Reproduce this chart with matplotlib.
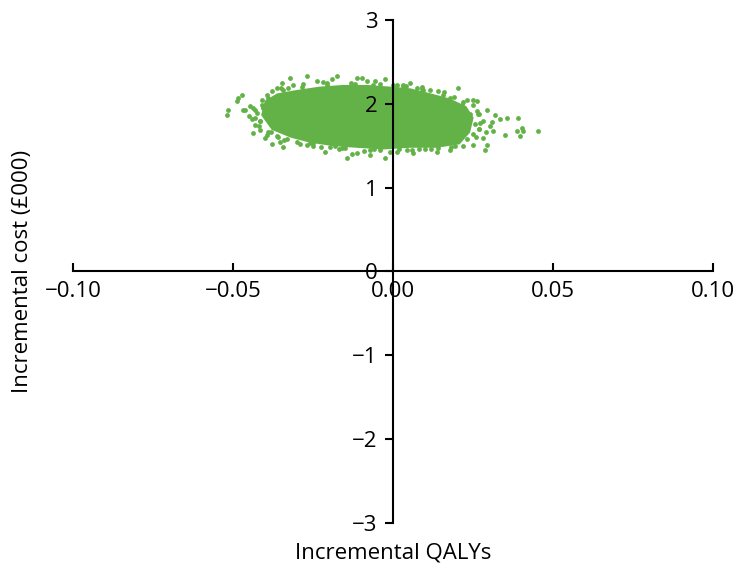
import matplotlib
matplotlib.use("Agg")
import matplotlib.pyplot as plt

# dense core of the PSA cloud (outline)
core_x = [-0.0405, -0.0395, -0.0360, -0.0300, -0.0228, -0.0155, -0.0082, -0.0009,
          0.0053, 0.0116, 0.0175, 0.0225, 0.0245, 0.0235, 0.0205, 0.0136, 0.0053,
          -0.0030, -0.0114, -0.0186, -0.0258, -0.0318, -0.0375]
core_y = [1.87, 2.02, 2.10, 2.14, 2.18, 2.20, 2.20, 2.18, 2.16, 2.10, 2.04, 1.95,
          1.83, 1.67, 1.54, 1.50, 1.50, 1.48, 1.50, 1.52, 1.56, 1.62, 1.71]

# scattered simulations around the core
pts_x = [-0.0515, -0.0520, -0.0483, -0.0473, -0.0489, -0.0463, -0.0437, -0.0431,
         -0.0437, -0.0416, -0.0410, -0.0379, -0.0379, -0.0353, -0.0343, -0.0322,
         -0.0348, -0.0327, -0.0270, -0.0259, -0.0213, -0.0176, -0.0113, -0.0098,
         -0.0145, -0.0129, -0.0113, -0.0072, -0.0056, -0.0025, -0.0025, 0.0053,
         0.0074, 0.0095, 0.0116, 0.0204, 0.0230, 0.0251, 0.0262, 0.0293, 0.0319,
         0.0334, 0.0355, 0.0392, 0.0262, 0.0272, 0.0303, 0.0313, 0.0350, 0.0386,
         0.0402, 0.0407, 0.0397, 0.0454, 0.0282, 0.0293, 0.0287, 0.0251, 0.0178,
         0.0136, 0.0064, 0.0043, 0.0012, -0.0072, -0.0197, -0.0270, -0.0364,
         -0.0400, -0.0416, -0.0426, -0.0447, -0.0468, -0.0395, -0.0364, -0.0311,
         -0.0239, -0.0207, -0.0061, 0.0012, 0.0032, 0.0157, 0.0178,
         -0.0415, -0.0405, -0.0390, -0.0380, -0.0345, -0.0330, -0.0285, -0.0250,
         -0.0205, -0.0160, -0.0120, -0.0040, 0.0000, 0.0040, 0.0090, 0.0140,
         0.0190, 0.0215, 0.0240, 0.0255, 0.0250, 0.0230, 0.0195, 0.0100, 0.0020,
         -0.0060, -0.0150, -0.0225, -0.0290, -0.0340, -0.0395, -0.0420, 0.0265,
         0.0270, -0.0300, -0.0180, -0.0040, 0.0080, 0.0160,
         -0.0280, -0.0220, -0.0130, -0.0040, 0.0030, 0.0090, 0.0140, -0.0350,
         -0.0190, -0.0080, -0.0250, -0.0170, -0.0090, -0.0010, 0.0060, 0.0120,
         0.0180, 0.0220, -0.0300, -0.0360, -0.0430, -0.0440, -0.0430, -0.0410,
         -0.0450, -0.0390, 0.0260, 0.0270, 0.0280, 0.0270, 0.0250, 0.0220,
         0.0290, 0.0310]
pts_y = [1.93, 1.87, 2.07, 2.10, 2.03, 1.93, 1.95, 1.83, 1.65, 1.69, 2.05, 2.15,
         1.52, 1.55, 1.49, 2.31, 2.25, 2.19, 2.33, 1.53, 1.43, 2.33, 2.31, 2.31,
         1.35, 1.40, 1.41, 1.39, 2.27, 2.29, 1.35, 2.25, 2.19, 2.17, 2.17, 2.19,
         2.05, 2.04, 2.03, 1.93, 1.87, 1.82, 1.83, 1.83, 1.91, 1.77, 1.73, 1.67,
         1.63, 1.67, 1.71, 1.67, 1.61, 1.67, 1.59, 1.51, 1.45, 1.51, 1.45, 1.43,
         1.41, 1.45, 1.43, 1.45, 1.49, 1.51, 1.61, 1.59, 1.79, 1.89, 1.97, 1.93,
         2.11, 2.19, 2.23, 2.27, 2.25, 2.23, 2.23, 2.21, 2.11, 2.07,
         1.80, 1.95, 2.07, 1.66, 2.16, 1.58, 2.20, 1.53, 2.23, 1.47, 2.24, 1.45,
         2.22, 2.21, 2.18, 1.47, 2.08, 1.99, 1.88, 1.76, 1.64, 1.58, 1.50, 1.46,
         1.46, 1.46, 1.47, 1.49, 1.52, 1.57, 1.63, 1.74, 1.88, 1.70, 2.14, 1.50,
         1.47, 1.46, 2.14,
         2.24, 2.26, 2.25, 2.24, 2.22, 2.20, 2.15, 2.19, 2.29, 2.27, 1.50, 1.46,
         1.44, 1.43, 1.45, 1.46, 1.48, 1.50, 1.55, 1.60, 1.75, 1.82, 1.92, 1.98,
         1.86, 1.66, 1.60, 1.70, 1.80, 1.88, 1.98, 2.02, 1.66, 1.78]

x_ticks = [-0.10, -0.05, 0.00, 0.05, 0.10]
x_labels = ["\u22120.10", "\u22120.05", "0.00", "0.05", "0.10"]
y_ticks = [-3, -2, -1, 0, 1, 2, 3]
y_labels = ["\u22123", "\u22122", "\u22121", "0", "1", "2", "3"]

green = "#63b247"
plt.rcParams["font.family"] = ["Open Sans", "DejaVu Sans"]

fig = plt.figure(figsize=(7.39, 5.70), dpi=100)
ax = fig.add_axes([0.0988, 0.0825, 0.866, 0.8825])

ax.fill(core_x, core_y, color=green, lw=3, ec=green, zorder=1)
ax.scatter(pts_x, pts_y, s=12, color=green, lw=0, zorder=1)

ax.set_xlim(-0.10, 0.10)
ax.set_ylim(-3, 3)
ax.spines["top"].set_visible(False)
ax.spines["right"].set_visible(False)
ax.spines["left"].set_position(("data", 0))
ax.spines["bottom"].set_position(("data", 0))
for s in ("left", "bottom"):
    ax.spines[s].set_linewidth(1.5)

ax.set_xticks(x_ticks)
ax.set_xticklabels(x_labels)
ax.set_yticks(y_ticks)
ax.set_yticklabels(y_labels)
ax.tick_params(axis="x", direction="in", length=6, width=1.5, pad=7, labelsize=16)
ax.tick_params(axis="y", direction="out", length=6, width=1.5, pad=5, labelsize=16)

fig.text(0.532, 0.012, "Incremental QALYs", ha="center", va="bottom", fontsize=16)
fig.text(0.016, 0.523, "Incremental cost (\u00a3000)", ha="left", va="center",
         rotation=90, fontsize=16)

fig.savefig("out.png", dpi=100)
